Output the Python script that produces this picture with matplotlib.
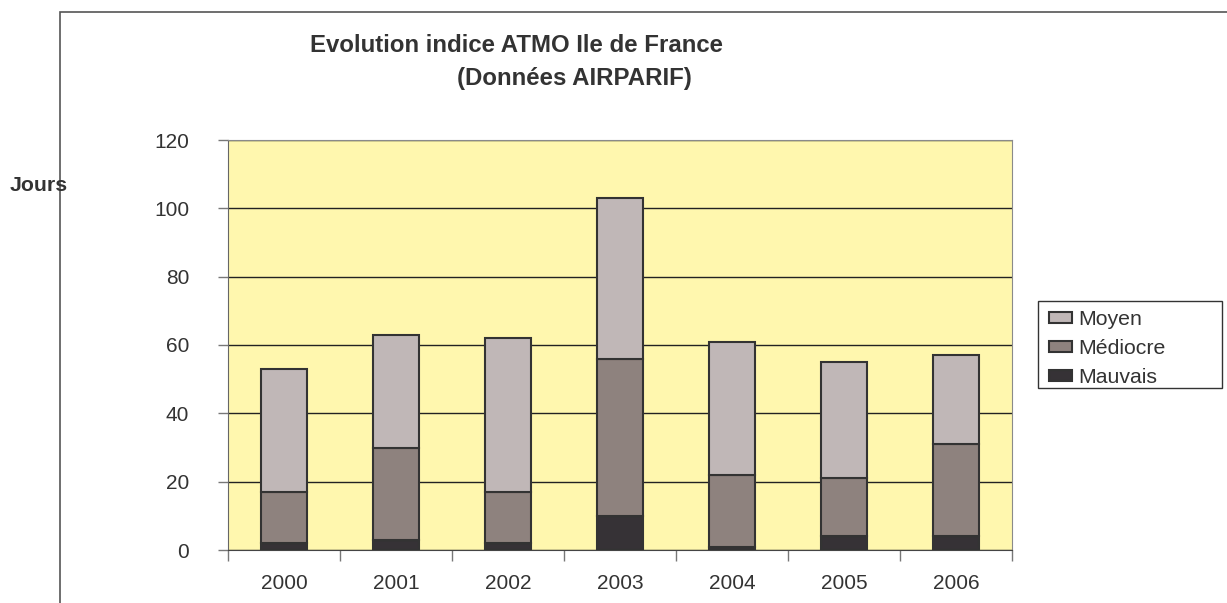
import matplotlib
matplotlib.use("Agg")
import matplotlib.pyplot as plt
from matplotlib.patches import Rectangle, Patch
import numpy as np

plt.rcParams["font.family"] = ["Liberation Sans", "DejaVu Sans"]

# données (jours par an)
annees = ["2000", "2001", "2002", "2003", "2004", "2005", "2006"]
mauvais = [2, 3, 2, 10, 1, 4, 4]
mediocre = [15, 27, 15, 46, 21, 17, 27]
moyen = [36, 33, 45, 47, 39, 34, 26]

C_MOYEN, C_MEDIO, C_MAUV = "#C0B7B7", "#8E827E", "#363236"
JAUNE = "#FFF7AE"
TXT = "#333333"

fig = plt.figure(figsize=(12.27, 6.03), dpi=100)
W, H = 1227, 603
# cadre extérieur
fig.patches.append(Rectangle((60 / W, -0.01), 1.1, 1 - 12 / H + 0.01, transform=fig.transFigure,
                             fill=False, ec="#555555", lw=1.2))

ax = fig.add_axes([228 / W, 1 - 550 / H, (1012 - 228) / W, (550 - 140) / H])
ax.set_facecolor(JAUNE)
x = np.arange(len(annees))
bw = 0.41
kw = dict(width=bw, edgecolor="#333333", linewidth=1.5, zorder=3)
ax.bar(x, mauvais, color=C_MAUV, **kw)
ax.bar(x, mediocre, bottom=mauvais, color=C_MEDIO, **kw)
bas = np.array(mauvais) + np.array(mediocre)
ax.bar(x, moyen, bottom=bas, color=C_MOYEN, **kw)

ax.set_xlim(-0.5, len(annees) - 0.5)
ax.set_ylim(0, 120)
ax.set_yticks(range(0, 121, 20))
ax.yaxis.grid(True, color="#222222", lw=1.0, zorder=1)
ax.set_axisbelow(True)
ax.set_xticks(x)
ax.set_xticklabels(annees)
ax.set_xticks(np.arange(-0.5, len(annees)), minor=True)
ax.tick_params(axis="x", which="major", length=0, pad=17, labelsize=15, labelcolor=TXT)
ax.tick_params(axis="x", which="minor", length=8, width=1, color="#777777", direction="out")
ax.tick_params(axis="y", length=7.5, width=1, color="#777777", pad=20.5, labelsize=15, labelcolor=TXT)
for s in ["top", "right"]:
    ax.spines[s].set_color("#8a8a8a")
ax.spines["left"].set_color("#666666")
ax.spines["bottom"].set_color("#444444")

fig.text(517 / W, 1 - 46 / H, "Evolution indice ATMO Ile de France", ha="center", va="center",
         fontsize=17.3, fontweight="bold", color=TXT)
fig.text(574 / W, 1 - 78 / H, "(Données AIRPARIF)", ha="center", va="center",
         fontsize=17.3, fontweight="bold", color=TXT)
fig.text(10 / W, 1 - 186 / H, "Jours", ha="left", va="center",
         fontsize=15.3, fontweight="bold", color=TXT)

# légende : cadre dessiné à part pour garder la largeur d'origine
fig.patches.append(Rectangle((1038 / W, 1 - 388 / H), (1222 - 1038) / W, (388 - 301) / H,
                             transform=fig.transFigure, fill=False, ec="#333333", lw=1.0))
handles = [Patch(fc=C_MOYEN, ec="#333333", lw=1.5), Patch(fc=C_MEDIO, ec="#333333", lw=1.5),
           Patch(fc=C_MAUV, ec="#333333", lw=1.5)]
leg = fig.legend(handles, ["Moyen", "Médiocre", "Mauvais"], loc="upper left",
                 bbox_to_anchor=(1049 / W, 1 - 310 / H), fontsize=15.3, frameon=False,
                 handlelength=1.1, handleheight=0.4, handletextpad=0.3,
                 labelspacing=0.48, borderpad=0.0, borderaxespad=0)
for t in leg.get_texts():
    t.set_color(TXT)

fig.savefig("out.png", dpi=100)
